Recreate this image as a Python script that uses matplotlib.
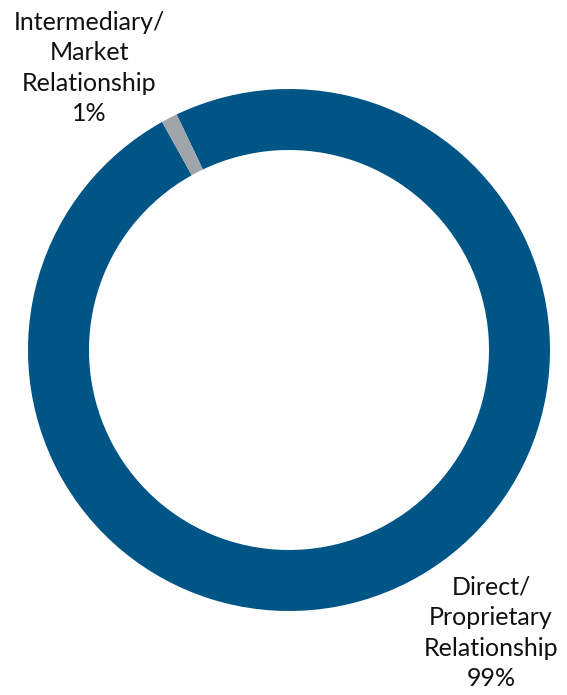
import matplotlib
matplotlib.use("Agg")
import matplotlib.pyplot as plt

labels = ['Direct/\nProprietary\nRelationship\n99%', 'Intermediary/\nMarket\nRelationship\n1%']
values = [99, 1]
colors = ['#005587', '#A0A5AB']

fig = plt.figure(figsize=(5.67, 6.95), dpi=100)
ax = fig.add_axes([0, 0, 1, 1])

ax.pie(values, colors=colors, center=(289, 695 - 350), radius=261,
       startangle=115.5, counterclock=False,
       wedgeprops=dict(width=61, edgecolor='none'))

# pie() resets the limits, so set them afterwards (pixel-like coords)
ax.set_xlim(0, 567)
ax.set_ylim(0, 695)
ax.set_aspect('equal')
ax.axis('off')

ax.text(89, 695 - 68, labels[1], ha='center', va='center', fontsize=18,
        family='Lato', linespacing=1.4, color='#111111')
ax.text(491, 695 - 633, labels[0], ha='center', va='center', fontsize=18,
        family='Lato', linespacing=1.4, color='#111111')

fig.savefig('out.png', dpi=100)
